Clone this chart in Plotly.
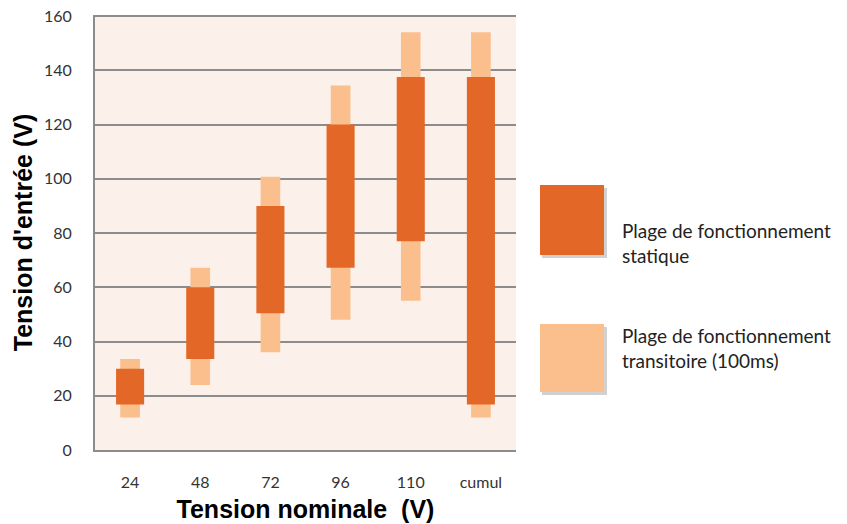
import plotly.graph_objects as go

# Data: input voltage ranges per nominal voltage
categories = ["24", "48", "72", "96", "110", "cumul"]
static_min = [16.8, 33.6, 50.4, 67.2, 77.0, 16.8]
static_max = [30.0, 60.0, 90.0, 120.0, 137.5, 137.5]
transient_min = [12.0, 24.0, 36.0, 48.0, 55.0, 12.0]
transient_max = [33.6, 67.2, 100.8, 134.4, 154.0, 154.0]

DARK = "#E36827"
LIGHT = "#FABF8D"
BG = "#FCF0EA"
GRID = "#8C8C8C"
FONT = "Lato, 'Open Sans', sans-serif"
TITLE_FONT = "Liberation Sans, Arial, sans-serif"

fig = go.Figure()
fig.add_trace(go.Bar(
    x=categories,
    y=[hi - lo for lo, hi in zip(transient_min, transient_max)],
    base=transient_min, width=0.28,
    marker=dict(color=LIGHT, line=dict(width=0)),
    name="Plage de fonctionnement transitoire (100ms)",
))
fig.add_trace(go.Bar(
    x=categories,
    y=[hi - lo for lo, hi in zip(static_min, static_max)],
    base=static_min, width=0.4,
    marker=dict(color=DARK, line=dict(width=0)),
    name="Plage de fonctionnement statique",
))

# plot area in page pixels (used to place the hand-made legend)
PX0, PX1, PY0, PY1 = 95, 516, 15, 450


def px(x):
    return (x - PX0) / (PX1 - PX0)


def py(y):
    return (PY1 - y) / (PY1 - PY0)


# Custom legend on the right (squares with a soft shadow)
legend_items = [
    (DARK, 185, 255, 243, ["Plage de fonctionnement", "statique"]),
    (LIGHT, 324, 392, 348, ["Plage de fonctionnement", "transitoire (100ms)"]),
]
shapes = []
annotations = []
for color, y0, y1, ytext, lines in legend_items:
    shapes.append(dict(type="rect", xref="paper", yref="paper",
                       x0=px(542), x1=px(607), y0=py(y1 + 3), y1=py(y0 + 3),
                       fillcolor="rgba(0,0,0,0.18)", line=dict(width=0), layer="above"))
    shapes.append(dict(type="rect", xref="paper", yref="paper",
                       x0=px(540), x1=px(604), y0=py(y1), y1=py(y0),
                       fillcolor=color, line=dict(width=0), layer="above"))
    annotations.append(dict(xref="paper", yref="paper",
                            x=px(620), y=py(ytext),
                            xanchor="left", yanchor="middle", align="left",
                            text="<br>".join(lines), showarrow=False,
                            font=dict(family=FONT, size=19, color="#222222")))

# page body adds an 8px offset, so the figure is sized/margined to compensate
fig.update_layout(
    width=839, height=516,
    barmode="overlay",
    showlegend=False,
    paper_bgcolor="white",
    plot_bgcolor=BG,
    margin=dict(l=PX0 - 8, r=839 - (PX1 - 8), t=PY0 - 8, b=516 - (PY1 - 8)),
    font=dict(family=FONT, size=16, color="#333333"),
    shapes=shapes,
    annotations=annotations,
)
fig.update_xaxes(
    automargin=False,
    showgrid=False, showline=True, linecolor=GRID, linewidth=2,
    ticks="", ticklabelstandoff=17,
    tickfont=dict(family=FONT, size=16, color="#333333"),
    title=dict(text="<b>Tension nominale  (V)</b>", standoff=10,
               font=dict(family=TITLE_FONT, size=25, color="black")),
)
fig.update_yaxes(
    automargin=False,
    range=[0, 160.4], tickvals=[0, 20, 40, 60, 80, 100, 120, 140, 160],
    showgrid=True, gridcolor=GRID, gridwidth=1.5,
    showline=True, linecolor=GRID, linewidth=2,
    zeroline=False, ticks="", ticklabelstandoff=18, ticklabeloverflow="allow",
    tickfont=dict(family=FONT, size=16, color="#333333"),
    title=dict(text="<b>Tension d'entrée (V)</b>", standoff=4,
               font=dict(family=TITLE_FONT, size=25, color="black")),
)

fig.write_html("out.html")
